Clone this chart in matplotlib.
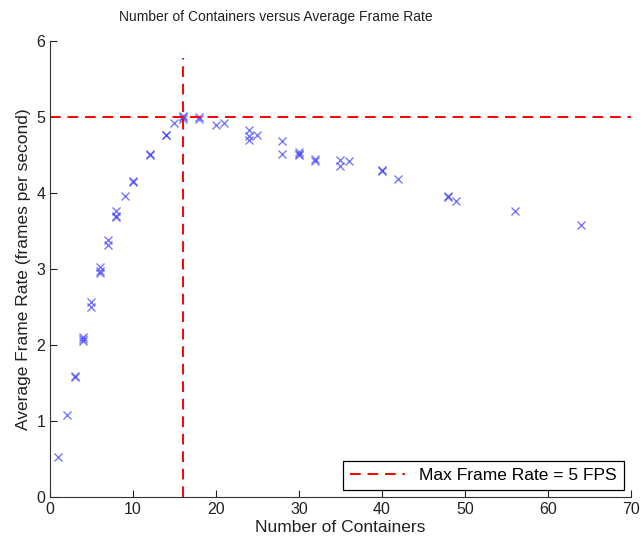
import matplotlib
matplotlib.use("Agg")
import matplotlib.pyplot as plt

plt.rcParams['font.family'] = ['Liberation Sans', 'DejaVu Sans']

containers = [1, 2, 3, 3, 4, 4, 4, 5, 5, 6, 6, 6, 7, 7, 8, 8, 8, 9, 10, 10,
              12, 12, 14, 14, 15, 16, 16, 16, 18, 18, 20, 21, 24, 24, 24, 25,
              28, 28, 30, 30, 30, 32, 32, 35, 35, 36, 40, 40, 42, 48, 48, 49,
              56, 64]
frame_rate = [0.53, 1.08, 1.58, 1.59, 2.05, 2.08, 2.11, 2.50, 2.56, 2.95, 2.97, 3.03,
              3.32, 3.38, 3.68, 3.70, 3.77, 3.96, 4.15, 4.16,
              4.50, 4.51, 4.76, 4.77, 4.92, 4.97, 5.00, 5.02, 4.97, 5.00, 4.90, 4.92,
              4.83, 4.75, 4.70, 4.76,
              4.69, 4.51, 4.50, 4.52, 4.54, 4.42, 4.45, 4.36, 4.44, 4.42, 4.29, 4.30,
              4.18, 3.95, 3.96, 3.89, 3.77, 3.58]
max_rate = 5
best_containers = 16
vline_top = 5.78

fig = plt.figure(figsize=(6.43, 5.44), dpi=100)
ax = fig.add_axes([0.0778, 0.0864, 0.903, 0.838])

ax.plot(containers, frame_rate, linestyle='none', marker='x', color=(0.25, 0.25, 1.0),
        alpha=0.7, markersize=5.5, markeredgewidth=1.0)
dash = (0, (5.5, 3.5))
line, = ax.plot([0, 70], [max_rate, max_rate], color='red', linestyle=dash,
                linewidth=1.4, label='Max Frame Rate = 5 FPS')
ax.plot([best_containers, best_containers], [0, vline_top], color='red',
        linestyle=dash, linewidth=1.4)

ax.set_xlim(0, 70)
ax.set_ylim(0, 6)
ax.set_xticks(range(0, 71, 10))
ax.set_yticks(range(0, 7))
ax.spines['top'].set_visible(False)
ax.spines['right'].set_visible(False)
for s in ['left', 'bottom']:
    ax.spines[s].set_color('#333333')
ax.tick_params(direction='in', length=5, labelsize=11.5, colors='#222222')
ax.set_xlabel('Number of Containers', fontsize=12.5, color='#222222', labelpad=2)
ax.set_ylabel('Average Frame Rate (frames per second)', fontsize=12.5, color='#222222')
ax.text(0.389, 1.045, 'Number of Containers versus Average Frame Rate',
        transform=ax.transAxes, ha='center', va='baseline', fontsize=10,
        color='#222222')

leg = ax.legend(handles=[line], loc='lower right', fontsize=12.5, fancybox=False,
                framealpha=1, edgecolor='black', handlelength=3.2,
                borderaxespad=0.4)
leg.get_frame().set_linewidth(0.9)

fig.savefig('out.png', dpi=100)
